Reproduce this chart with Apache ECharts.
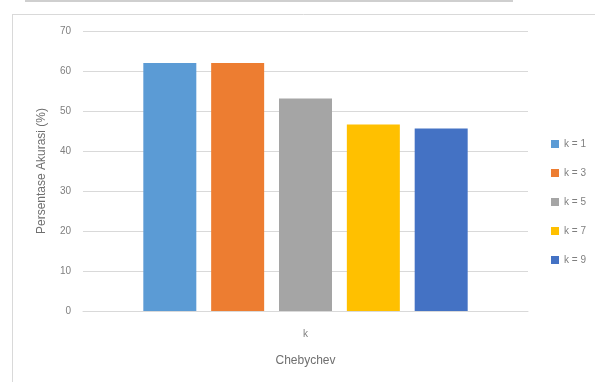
<!DOCTYPE html>
<html>
<head>
<meta charset="utf-8">
<script src="https://cdn.jsdelivr.net/npm/echarts@6/dist/echarts.min.js"></script>
<style>
html, body { margin: 0; padding: 0; background: #fff; }
#chart { width: 595px; height: 382px; }
</style>
</head>
<body>
<div id="chart"></div>
<script>
// data
var categories = ['k'];
var seriesNames = ['k = 1', 'k = 3', 'k = 5', 'k = 7', 'k = 9'];
var seriesValues = [62, 62, 53.1, 46.6, 45.6];
var seriesColors = ['#5b9bd5', '#ed7d31', '#a5a5a5', '#ffc000', '#4472c4'];
var yTicks = [0, 10, 20, 30, 40, 50, 60, 70];

var seriesData = [];
for (var i = 0; i < seriesNames.length; i++) {
	seriesData.push({
		name: seriesNames[i],
		type: 'bar',
		data: [seriesValues[i]],
		barWidth: 53,
		barGap: '28%',
		itemStyle: { color: seriesColors[i] }
	});
}

var myChart = echarts.init(document.getElementById('chart'));
var option = {
	animation: false,
	textStyle: { fontFamily: 'Liberation Sans, Arial, sans-serif' },
	graphic: [
		// frame of the chart area
		{ type: 'line', shape: { x1: 12.5, y1: 14, x2: 12.5, y2: 382 }, style: { stroke: '#d9d9d9', lineWidth: 1 } },
		{ type: 'line', shape: { x1: 12, y1: 14.5, x2: 595, y2: 14.5 }, style: { stroke: '#d9d9d9', lineWidth: 1 } },
		{ type: 'rect', shape: { x: 25, y: 0, width: 488, height: 2 }, style: { fill: '#cfcfcf' } }
	],
	grid: { left: 83, right: 67, top: 31, bottom: 71 },
	legend: {
		orient: 'vertical',
		left: 546,
		top: 134,
		itemWidth: 8,
		itemHeight: 8,
		itemGap: 19,
		icon: 'rect',
		textStyle: { fontSize: 10, color: '#7f7f7f' },
		data: seriesNames
	},
	xAxis: {
		type: 'category',
		data: categories,
		axisLine: { lineStyle: { color: '#d9d9d9' } },
		axisTick: { show: false },
		axisLabel: { fontSize: 10, color: '#7f7f7f', margin: 18 },
		name: 'Chebychev',
		nameLocation: 'middle',
		nameGap: 44,
		nameTextStyle: { fontSize: 12, color: '#6f6f6f' }
	},
	yAxis: {
		type: 'value',
		min: yTicks[0],
		max: yTicks[yTicks.length - 1],
		interval: 10,
		axisLine: { show: false },
		axisTick: { show: false },
		axisLabel: { fontSize: 10, color: '#7f7f7f', margin: 12 },
		splitLine: { lineStyle: { color: '#d9d9d9' } },
		name: 'Persentase Akurasi (%)',
		nameLocation: 'middle',
		nameGap: 35,
		nameTextStyle: { fontSize: 12, color: '#6f6f6f' }
	},
	series: seriesData
};
myChart.setOption(option);
</script>
</body>
</html>
